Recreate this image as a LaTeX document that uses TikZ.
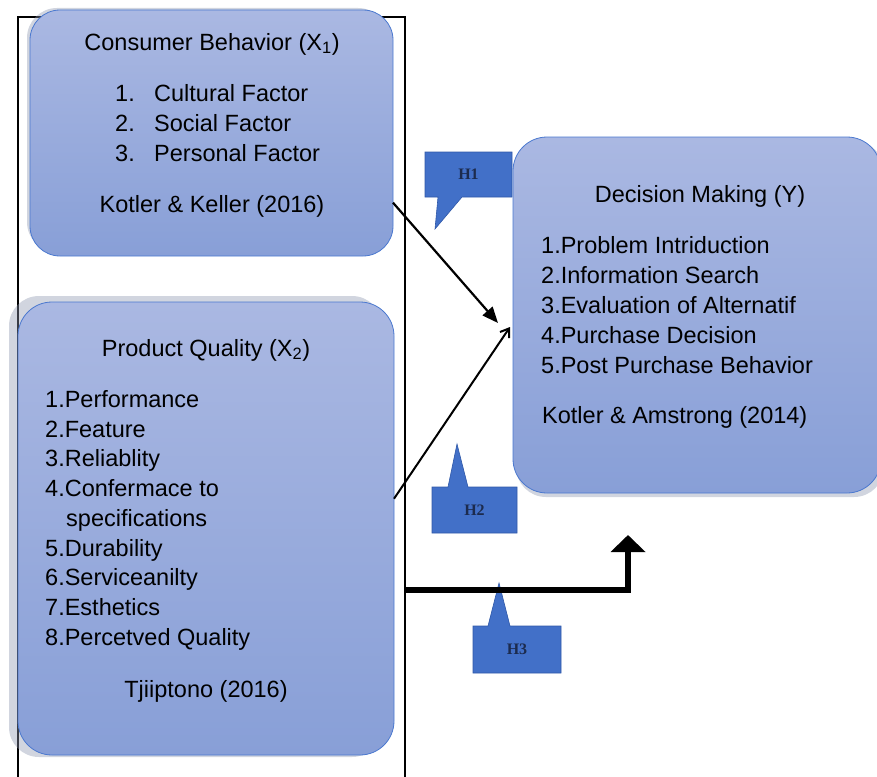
\documentclass[tikz,border=0pt]{standalone}
\usepackage{fontspec}
\setmainfont{Liberation Sans}
\newfontfamily\hfont{Liberation Serif}
\usetikzlibrary{arrows.meta}
\definecolor{boxtop}{HTML}{AAB8E2}
\definecolor{boxbot}{HTML}{889FD7}
\definecolor{boxline}{HTML}{4A78CF}
\definecolor{callfill}{HTML}{4270C8}
\definecolor{callline}{HTML}{2F58A8}
\definecolor{shadowgray}{HTML}{8C95AE}
\definecolor{hink}{HTML}{1C2B4E}
\tikzset{
  varbox/.style={rectangle, rounded corners=30, draw=boxline, line width=0.8,
    top color=boxtop, bottom color=boxbot, inner sep=0, outer sep=0},
  boxshadow/.style={fill=shadowgray, rounded corners=30, opacity=0.4},
  txt/.style={font=\fontsize{23.5}{30}\selectfont, inner sep=0, anchor=base west},
  ctxt/.style={font=\fontsize{23.5}{30}\selectfont, inner sep=0, anchor=base},
  callout/.style={fill=callfill, draw=callline, line width=0.6},
  hlabel/.style={font=\hfont\bfseries\fontsize{16}{18}\selectfont, text=hink, inner sep=0},
  frameline/.style={line width=2.2, draw=black},
}
\begin{document}
\begin{tikzpicture}[x=1pt, y=-1pt]
\useasboundingbox (0,0) rectangle (877,776);
\clip (0,0) rectangle (877,776);

% open frame around the two independent variables
\draw[frameline] (18,800) -- (18,17) -- (405,17) -- (405,800);

% callouts for the hypotheses
\draw[callout] (425,152) -- (512,152) -- (512,197) -- (462,197) -- (435,229)
  -- (438,197) -- (425,197) -- cycle;
\node[hlabel] (h1) at (468.5,174.5) {H1};
\draw[callout] (432,487) -- (448,487) -- (457,444) -- (468,487) -- (517,487)
  -- (517,533) -- (432,533) -- cycle;
\node[hlabel] (h2) at (474.5,510) {H2};
\draw[callout] (473,626) -- (488,626) -- (499,583) -- (510,626) -- (561,626)
  -- (561,673) -- (473,673) -- cycle;
\node[hlabel] (h3) at (517,649.5) {H3};

% shadows
\fill[boxshadow] (27,8) rectangle (388,252);
\fill[boxshadow] (9,296) rectangle (382,757);
\fill[boxshadow] (516,141) rectangle (884,497);

% variable boxes
\node[varbox, minimum width=363, minimum height=246] (x1) at (211.5,133) {};
\node[varbox, minimum width=376, minimum height=453, rounded corners=34] (x2) at (206,528.5) {};
\node[varbox, minimum width=368, minimum height=356, rounded corners=34] (y) at (697,315) {};

% Consumer Behavior
\node[ctxt] (x1t) at (212,50) {Consumer Behavior (X\textsubscript{1})};
\node[txt] (x1n1) at (115,101) {1.};
\node[txt] (x1i1) at (154,101) {Cultural Factor};
\node[txt] (x1n2) at (115,131) {2.};
\node[txt] (x1i2) at (154,131) {Social Factor};
\node[txt] (x1n3) at (115,161) {3.};
\node[txt] (x1i3) at (154,161) {Personal Factor};
\node[ctxt] (x1s) at (212,212) {Kotler \& Keller (2016)};

% Product Quality
\node[ctxt] (x2t) at (206,356) {Product Quality (X\textsubscript{2})};
\node[txt] (x2i1) at (45,407) {1.Performance};
\node[txt] (x2i2) at (45,437) {2.Feature};
\node[txt] (x2i3) at (45,466.5) {3.Reliablity};
\node[txt] (x2i4) at (45,496) {4.Confermace to};
\node[txt] (x2i4b) at (66,526) {specifications};
\node[txt] (x2i5) at (45,556) {5.Durability};
\node[txt] (x2i6) at (45,585.5) {6.Serviceanilty};
\node[txt] (x2i7) at (45,615) {7.Esthetics};
\node[txt] (x2i8) at (45,645) {8.Percetved Quality};
\node[ctxt] (x2s) at (206,697) {Tjiiptono (2016)};

% Decision Making
\node[ctxt] (yt) at (700,202) {Decision Making (Y)};
\node[txt] (yi1) at (541,253) {1.Problem Intriduction};
\node[txt] (yi2) at (541,283) {2.Information Search};
\node[txt] (yi3) at (541,313) {3.Evaluation of Alternatif};
\node[txt] (yi4) at (541,343) {4.Purchase Decision};
\node[txt] (yi5) at (541,373) {5.Post Purchase Behavior};
\node[txt] (ys) at (542,423) {Kotler \& Amstrong (2014)};

% connectors
\coordinate (t1) at (498,323);
\coordinate (t2) at (510,327);
\draw[line width=2.2, -{Triangle[length=16pt,width=13pt]}] (x1.-21.6) -- (t1);
\draw[line width=2, -{Straight Barb[length=8pt,width=11pt]}] (x2.9.5) -- (t2);

\coordinate (j3) at (405,590);
\coordinate (t3) at (628,535);
\draw[line width=6, -{Triangle[length=17pt,width=34pt]}] (j3) -| (t3);
\end{tikzpicture}
\end{document}
